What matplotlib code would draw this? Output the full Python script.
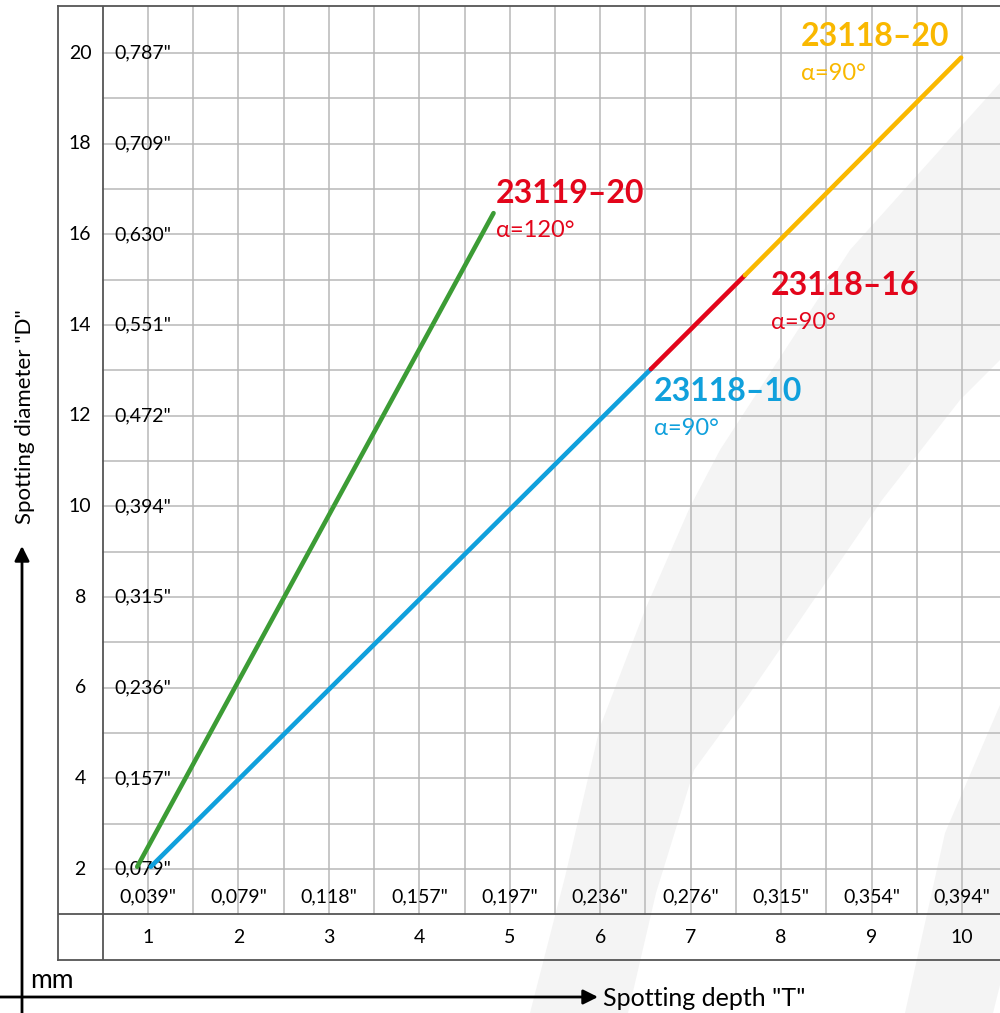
import numpy as np
import matplotlib
matplotlib.use("Agg")
import matplotlib.pyplot as plt
from matplotlib.patches import Polygon

plt.rcParams['font.family'] = ['Lato', 'DejaVu Sans']

# ---------------------------------------------------------------- data
mm_x = [1, 2, 3, 4, 5, 6, 7, 8, 9, 10]
inch_x = ['0,039"', '0,079"', '0,118"', '0,157"', '0,197"',
          '0,236"', '0,276"', '0,315"', '0,354"', '0,394"']
mm_y = [2, 4, 6, 8, 10, 12, 14, 16, 18, 20]
inch_y = ['0,079"', '0,157"', '0,236"', '0,315"', '0,394"',
          '0,472"', '0,551"', '0,630"', '0,709"', '0,787"']

names = ['23119–20', '23118–10', '23118–16', '23118–20']
angles = ['α=120°', 'α=90°', 'α=90°', 'α=90°']
line_colors = ['#3c9c35', '#10a0dc', '#e3051b', '#f9b800']
text_colors = ['#e3051b', '#10a0dc', '#e3051b', '#f9b800']
depth_start = [0.88, 1.03, 6.56, 7.60]
depth_end = [4.82, 6.56, 7.60, 9.99]
diam_start = [2.05, 2.05, 13.03, 15.10]
diam_end = [16.47, 13.03, 15.10, 19.90]
# label anchor (left, vertical centre of name) in data units
label_x = [4.85, 6.59, 7.89, 8.22]
label_y = [16.91, 12.54, 14.88, 20.36]

# ---------------------------------------------------------------- figure
fig = plt.figure(figsize=(10, 10.13), dpi=100)

# background layer in pixel coordinates (watermark, arrows, axis titles)
bg = fig.add_axes([0, 0, 1, 1], zorder=0)
bg.set_xlim(0, 1000)
bg.set_ylim(1013, 0)
bg.axis('off')

band1 = [(530, 1013), (565, 877), (600, 727), (645, 610), (690, 507),
         (720, 450), (796, 333), (850, 250), (1000, 83), (1000, 360),
         (960, 400), (882, 500), (798, 623), (743, 703), (694, 770),
         (656, 893), (628, 1013)]
band2 = [(905, 1013), (945, 833), (1000, 705), (1000, 985), (993, 1013)]
for band in (band1, band2):
    bg.add_patch(Polygon(band, closed=True, facecolor='#f4f4f4',
                         edgecolor='none'))

bg.annotate('', xy=(598, 997), xytext=(0, 997),
            arrowprops=dict(arrowstyle='-|>', mutation_scale=22, lw=2,
                            color='black', shrinkA=0, shrinkB=0))
bg.annotate('', xy=(22, 546), xytext=(22, 1013),
            arrowprops=dict(arrowstyle='-|>', mutation_scale=22, lw=2,
                            color='black', shrinkA=0, shrinkB=0))
bg.text(30, 980, 'mm', fontsize=19, ha='left', va='center')
bg.text(603, 998, 'Spotting depth "T"', fontsize=18, ha='left', va='center')
bg.text(25, 417, 'Spotting diameter "D"', fontsize=16, rotation=90,
        ha='center', va='center')

# main chart
ax = fig.add_axes([0.0576, 0.0526, 0.9424, 0.9415], zorder=1)
ax.set_facecolor('none')
ax.set_xlim(0, 10.42)
ax.set_ylim(0, 21.04)
ax.set_xticks([])
ax.set_yticks([])
for side in ['left', 'top', 'bottom']:
    ax.spines[side].set_color('#555555')
    ax.spines[side].set_linewidth(1.3)
ax.spines['right'].set_visible(False)

grid_col = '#b8b8b8'
for gx in np.arange(1.0, 10.5, 0.5):
    ax.plot([gx, gx], [1, 21.04], color=grid_col, lw=1.1, zorder=1)
for gy in range(2, 21):
    ax.plot([0.5, 10.42], [gy, gy], color=grid_col, lw=1.1, zorder=1)
ax.plot([0.5, 0.5], [0, 21.04], color='#555555', lw=1.3, zorder=2)
ax.plot([0, 10.42], [1, 1], color='#555555', lw=1.3, zorder=2)

# tick labels
for v, lab in zip(mm_y, inch_y):
    ax.text(0.25, v, str(v), fontsize=14, ha='center', va='center')
    ax.text(0.625, v, lab, fontsize=14, ha='left', va='center', zorder=3)
for v, lab in zip(mm_x, inch_x):
    ax.text(v, 0.5, str(v), fontsize=14, ha='center', va='center')
    ax.text(v, 1.38, lab, fontsize=14, ha='center', va='center')

# series
for i in range(len(names)):
    ax.plot([depth_start[i], depth_end[i]], [diam_start[i], diam_end[i]],
            color=line_colors[i], lw=3.3, solid_capstyle='round', zorder=4)
    ax.text(label_x[i], label_y[i], names[i], color=text_colors[i],
            fontsize=23, fontweight='bold', ha='left', va='center', zorder=5)
    ax.text(label_x[i], label_y[i] - 0.82, angles[i], color=text_colors[i],
            fontsize=17, ha='left', va='center', zorder=5)

fig.savefig('out.png', dpi=100)
